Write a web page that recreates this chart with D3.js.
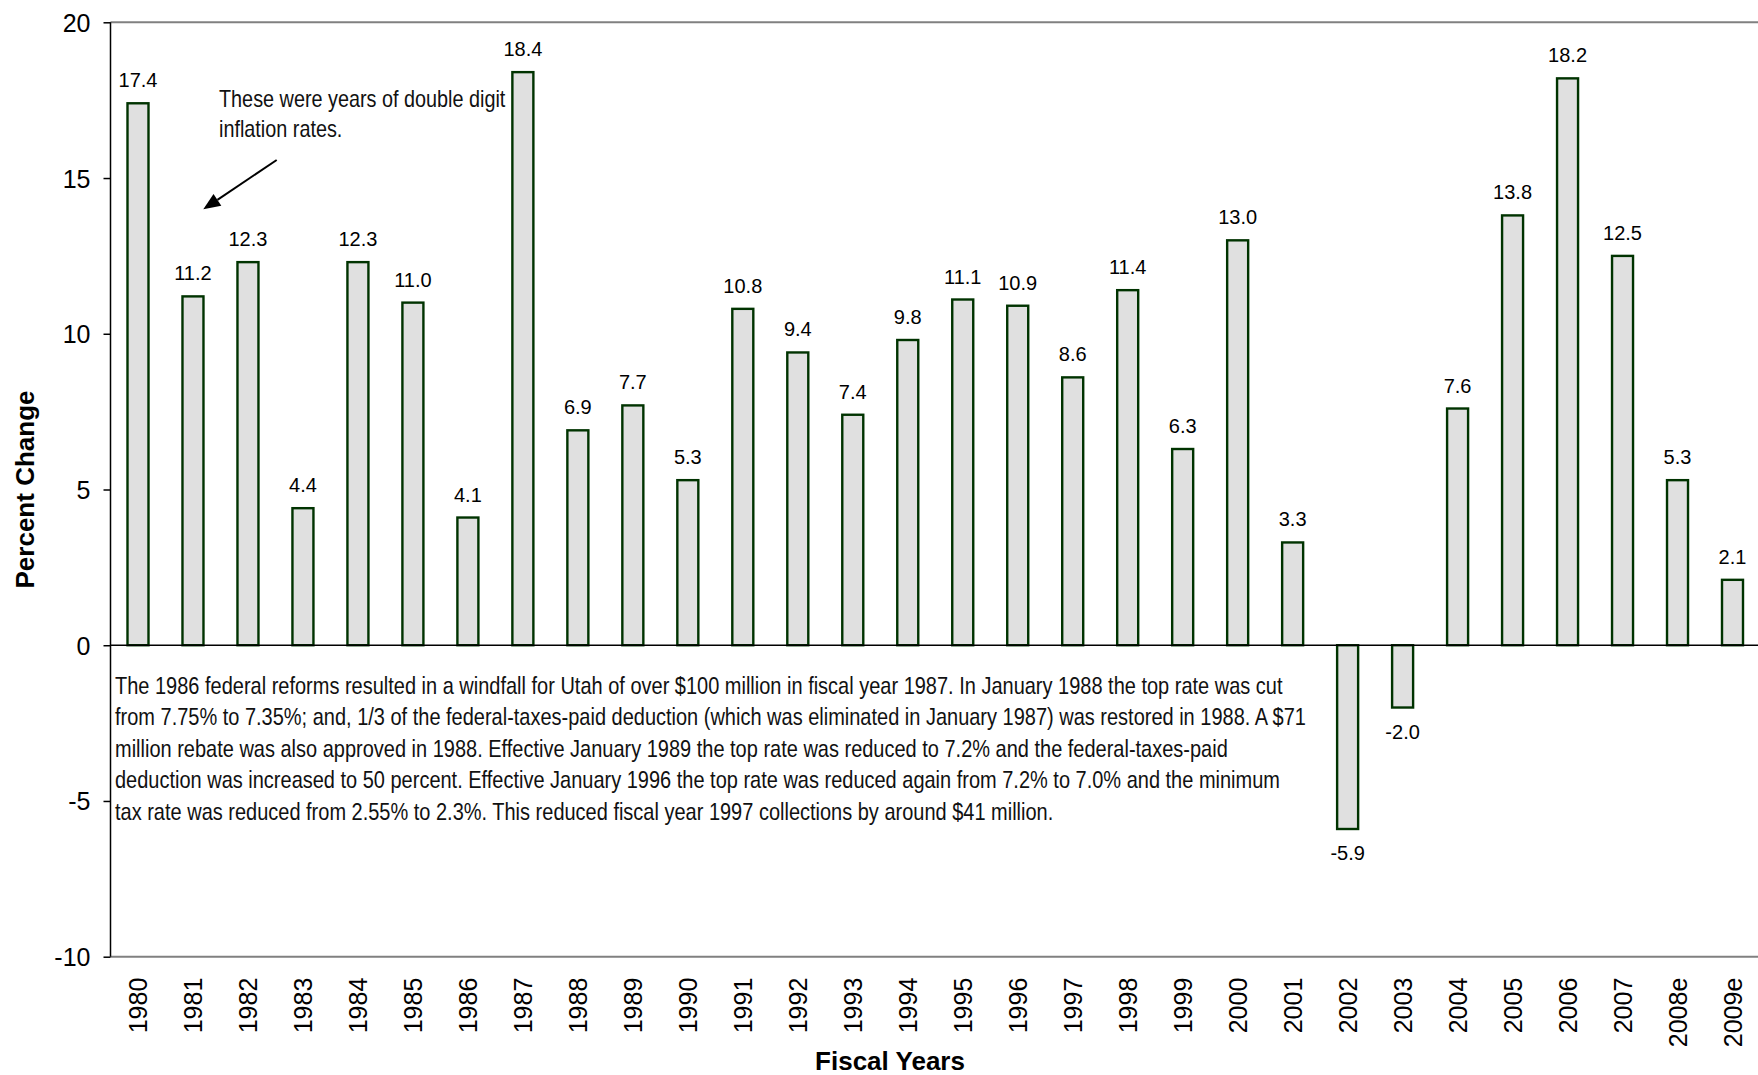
<!DOCTYPE html>
<html>
<head>
<meta charset="utf-8">
<script src="https://cdn.jsdelivr.net/npm/d3@7"></script>
<style>
html, body { margin: 0; padding: 0; background: #fff; }
svg { display: block; }
</style>
</head>
<body>
<svg id="chart" width="1758" height="1075"></svg>
<script>
const categories = ["1980","1981","1982","1983","1984","1985","1986","1987","1988","1989",
  "1990","1991","1992","1993","1994","1995","1996","1997","1998","1999",
  "2000","2001","2002","2003","2004","2005","2006","2007","2008e","2009e"];
const values = [17.4, 11.2, 12.3, 4.4, 12.3, 11.0, 4.1, 18.4, 6.9, 7.7,
  5.3, 10.8, 9.4, 7.4, 9.8, 11.1, 10.9, 8.6, 11.4, 6.3,
  13.0, 3.3, -5.9, -2.0, 7.6, 13.8, 18.2, 12.5, 5.3, 2.1];
const yTicks = [-10, -5, 0, 5, 10, 15, 20];
const yTitle = "Percent Change";
const xTitle = "Fiscal Years";
const noteTop = ["These were years of double digit", "inflation rates."];
const noteBottom = [
  "The 1986 federal reforms resulted in a windfall for Utah of over $100 million in fiscal year 1987. In January 1988 the top rate was cut",
  "from 7.75% to 7.35%; and, 1/3 of the federal-taxes-paid deduction (which was eliminated in January 1987) was restored in 1988. A $71",
  "million rebate was also approved in 1988. Effective January 1989 the top rate was reduced to 7.2% and the federal-taxes-paid",
  "deduction was increased to 50 percent. Effective January 1996 the top rate was reduced again from 7.2% to 7.0% and the minimum",
  "tax rate was reduced from 2.55% to 2.3%. This reduced fiscal year 1997 collections by around $41 million."
];

(function () {
const svg = d3.select("#chart");
const pL = 110.5, pR = 1760, pT = 22.3, pB = 956.7;
const loc = d3.formatLocale({decimal: ".", thousands: ",", grouping: [3], currency: ["$", ""], minus: "-"});

const x = d3.scaleBand().domain(categories).range([pL, pR]).paddingInner(0.6).paddingOuter(0.3);
const y = d3.scaleLinear().domain([-10, 20]).range([pB, pT]);

const sans = "'Liberation Sans', Arial, sans-serif";

// Top and bottom gray frame lines
svg.append("line").attr("x1", pL).attr("x2", 1758).attr("y1", y(20)).attr("y2", y(20))
  .attr("stroke", "#808080").attr("stroke-width", 2);
svg.append("line").attr("x1", pL).attr("x2", 1758).attr("y1", y(-10)).attr("y2", y(-10))
  .attr("stroke", "#808080").attr("stroke-width", 2);

// Bars
const bw = 21;
svg.append("g").selectAll("rect").data(values).join("rect")
  .attr("x", (d, i) => x(categories[i]) + x.bandwidth() / 2 - bw / 2)
  .attr("y", d => y(Math.max(0, d)))
  .attr("width", bw)
  .attr("height", d => Math.abs(y(d) - y(0)))
  .attr("fill", "#e0e0e0")
  .attr("stroke", "#003300")
  .attr("stroke-width", 2.4);

// Zero line
svg.append("line").attr("x1", pL).attr("x2", 1758).attr("y1", y(0)).attr("y2", y(0))
  .attr("stroke", "#000").attr("stroke-width", 1.5);

// Y axis
const yAxis = svg.append("g").attr("transform", `translate(${pL},0)`)
  .call(d3.axisLeft(y).tickValues(yTicks).tickSize(7).tickPadding(13).tickFormat(loc.format("d")));
yAxis.select(".domain").attr("stroke", "#000").attr("stroke-width", 1.5).attr("d", `M0,${pT}V${pB}`);
yAxis.selectAll(".tick line").attr("stroke", "#000").attr("stroke-width", 1.5);
yAxis.selectAll(".tick text").attr("font-family", sans).attr("font-size", 25).attr("fill", "#000")
  .attr("dy", "0.36em");

// X category labels (rotated)
const xAxis = svg.append("g").attr("transform", `translate(0,${pB})`)
  .call(d3.axisBottom(x).tickSize(0).tickPadding(0));
xAxis.select(".domain").remove();
xAxis.selectAll(".tick text")
  .attr("font-family", sans).attr("font-size", 25).attr("fill", "#000")
  .attr("transform", "rotate(-90)")
  .attr("text-anchor", "end")
  .attr("x", -21).attr("y", 0).attr("dy", "0.36em");

// Value labels
svg.append("g").selectAll("text").data(values).join("text")
  .attr("x", (d, i) => x(categories[i]) + x.bandwidth() / 2)
  .attr("y", d => d >= 0 ? y(d) - 16 : y(d) + 31.5)
  .attr("text-anchor", "middle")
  .attr("font-family", sans).attr("font-size", 20).attr("fill", "#000")
  .text(d => loc.format(".1f")(d));

// Axis titles
svg.append("text")
  .attr("transform", `translate(34,${(pT + pB) / 2}) rotate(-90)`)
  .attr("text-anchor", "middle")
  .attr("font-family", sans).attr("font-size", 26).attr("font-weight", "bold")
  .text(yTitle);
svg.append("text")
  .attr("x", 890).attr("y", 1070)
  .attr("text-anchor", "middle")
  .attr("font-family", sans).attr("font-size", 26).attr("font-weight", "bold")
  .text(xTitle);

// Top annotation (condensed)
svg.append("g").attr("transform", `translate(219,0) scale(0.826,1)`)
  .selectAll("text").data(noteTop).join("text")
  .attr("x", 0).attr("y", (d, i) => 106.7 + i * 30)
  .attr("font-family", sans).attr("font-size", 24).attr("fill", "#111")
  .text(d => d);

// Arrow
const ax1 = 276.7, ay1 = 160, ax2 = 203.3, ay2 = 209.3;
const ang = Math.atan2(ay2 - ay1, ax2 - ax1);
const hl = 17, hw = 7;
const bx = ax2 - hl * Math.cos(ang), by = ay2 - hl * Math.sin(ang);
svg.append("line").attr("x1", ax1).attr("y1", ay1).attr("x2", bx).attr("y2", by)
  .attr("stroke", "#000").attr("stroke-width", 2);
svg.append("polygon")
  .attr("points", [
    [ax2, ay2],
    [bx + hw * Math.sin(ang), by - hw * Math.cos(ang)],
    [bx - hw * Math.sin(ang), by + hw * Math.cos(ang)]
  ].map(p => p.join(",")).join(" "))
  .attr("fill", "#000");

// Bottom annotation (condensed)
svg.append("g").attr("transform", `translate(115,0) scale(0.833,1)`)
  .selectAll("text").data(noteBottom).join("text")
  .attr("x", 0).attr("y", (d, i) => 694 + i * 31.4)
  .attr("font-family", sans).attr("font-size", 24).attr("fill", "#111")
  .text(d => d);
})();
</script>
</body>
</html>
